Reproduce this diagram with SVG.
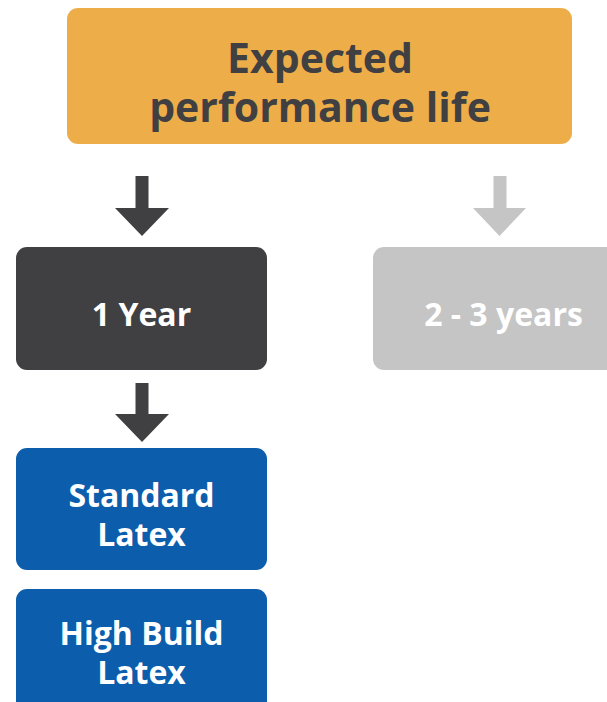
<svg xmlns="http://www.w3.org/2000/svg" width="607" height="702" viewBox="0 0 607 702">
<style>
  .t { font-family: "Open Sans", "Liberation Sans", sans-serif; font-weight: 700; text-anchor: middle; }
  .title { font-size: 41px; fill: #404042; }
  .lbl { font-size: 32px; fill: #ffffff; }
</style>
<rect width="607" height="702" fill="#ffffff"/>
<g id="connectors">
  <path d="M135.5 176 H148.5 V208 H169 L142 236 L115 208 H135.5 Z" fill="#404042"/>
  <path d="M493.5 176 H506.5 V208 H526 L499.5 236 L473 208 H493.5 Z" fill="#C5C5C5"/>
  <path d="M135.5 383 H148.5 V414 H169 L142 442 L115 414 H135.5 Z" fill="#404042"/>
</g>
<g id="title">
  <rect x="67" y="8" width="505" height="136" rx="11" fill="#EDAE4A"/>
  <text class="t title" x="320" y="73">Expected</text>
  <text class="t title" x="320" y="122">performance life</text>
</g>
<g id="year1">
  <rect x="16" y="247" width="251" height="123" rx="11" fill="#404042"/>
  <text class="t lbl" x="141.5" y="326">1 Year</text>
</g>
<g id="years23">
  <rect x="373" y="247" width="252" height="123" rx="11" fill="#C5C5C5"/>
  <text class="t lbl" x="503.5" y="326">2 - 3 years</text>
</g>
<g id="standard">
  <rect x="16" y="448" width="251" height="122" rx="11" fill="#0C5DAB"/>
  <text class="t lbl" x="141.5" y="507">Standard</text>
  <text class="t lbl" x="141.5" y="546">Latex</text>
</g>
<g id="highbuild">
  <rect x="16" y="589" width="251" height="123" rx="11" fill="#0C5DAB"/>
  <text class="t lbl" x="141.5" y="645">High Build</text>
  <text class="t lbl" x="141.5" y="684">Latex</text>
</g>
</svg>
